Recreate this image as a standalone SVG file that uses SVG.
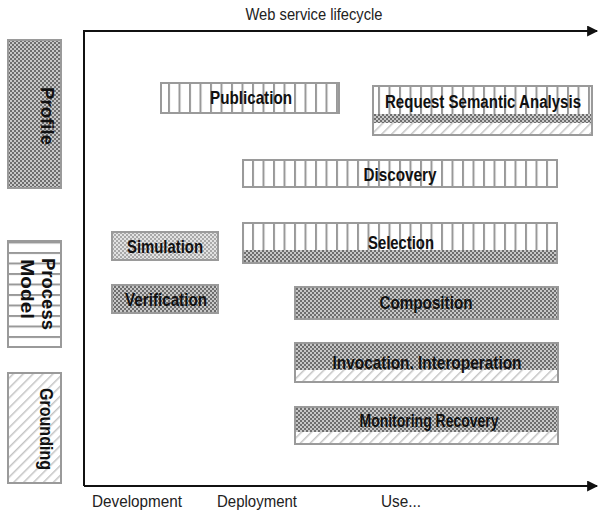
<svg xmlns="http://www.w3.org/2000/svg" width="601" height="518" viewBox="0 0 601 518">
<style>
.box{stroke:#9a9a9a;stroke-width:2}
.lbl{font-family:"Liberation Sans",Arial,sans-serif;font-weight:bold;font-size:19px;fill:#111;text-anchor:middle}
.ax{font-family:"Liberation Sans",Arial,sans-serif;font-size:17px;fill:#222}
.axis{stroke:#111;stroke-width:2;fill:none}
</style>
<defs>
<pattern id="vstripe" width="10.5" height="10" patternUnits="userSpaceOnUse">
<rect width="10.5" height="10" fill="#fff"/>
<rect x="0" width="2" height="10" fill="#999"/>
</pattern>
<pattern id="hstripe" width="10" height="10.5" patternUnits="userSpaceOnUse">
<rect width="10" height="10.5" fill="#fff"/>
<rect y="0" width="10" height="2" fill="#999"/>
</pattern>
<pattern id="check" width="4" height="4" patternUnits="userSpaceOnUse">
<rect width="4" height="4" fill="#c8c8c8"/>
<rect width="2" height="2" fill="#6e6e6e"/>
<rect x="2" y="2" width="2" height="2" fill="#6e6e6e"/>
</pattern>
<pattern id="checkLight" width="4" height="4" patternUnits="userSpaceOnUse">
<rect width="4" height="4" fill="#e2e2e2"/>
<rect width="2" height="2" fill="#a8a8a8"/>
<rect x="2" y="2" width="2" height="2" fill="#a8a8a8"/>
</pattern>
<pattern id="diag" width="7" height="7" patternUnits="userSpaceOnUse" patternTransform="rotate(45)">
<rect width="7" height="7" fill="#fff"/>
<rect width="1.5" height="7" fill="#c4c4c4"/>
</pattern>
<marker id="arr" viewBox="0 0 10 10" refX="9" refY="5" markerWidth="7" markerHeight="5.5" markerUnits="strokeWidth" orient="auto">
<path d="M0,0 L10,5 L0,10 z" fill="#111"/>
</marker>
</defs>

<g id="connectors">
<path class="axis" d="M84,486 L84,31 L597,31" marker-end="url(#arr)"/>
<path class="axis" d="M84,486 L597,486" marker-end="url(#arr)"/>
</g>

<text class="ax" x="314" y="20" text-anchor="middle" textLength="137" lengthAdjust="spacingAndGlyphs">Web service lifecycle</text>
<text class="ax" x="137" y="507" text-anchor="middle" textLength="90" lengthAdjust="spacingAndGlyphs">Development</text>
<text class="ax" x="257" y="507" text-anchor="middle" textLength="80" lengthAdjust="spacingAndGlyphs">Deployment</text>
<text class="ax" x="401" y="507" text-anchor="middle" textLength="40" lengthAdjust="spacingAndGlyphs">Use...</text>

<g id="legend-profile">
<rect class="box" x="8" y="40" width="53" height="148" fill="url(#check)"/>
<text class="lbl" transform="translate(41,116) rotate(90)" textLength="58" lengthAdjust="spacingAndGlyphs">Profile</text>
</g>
<g id="legend-process-model">
<rect class="box" x="8" y="241" width="53" height="106" fill="url(#hstripe)"/>
<text class="lbl" transform="translate(42,294) rotate(90)" textLength="72" lengthAdjust="spacingAndGlyphs">Process</text>
<text class="lbl" transform="translate(21,289) rotate(90)" textLength="60" lengthAdjust="spacingAndGlyphs">Model</text>
</g>
<g id="legend-grounding">
<rect class="box" x="8" y="373" width="53" height="110" fill="url(#diag)"/>
<text class="lbl" transform="translate(40,429) rotate(90)" textLength="82" lengthAdjust="spacingAndGlyphs">Grounding</text>
</g>

<g id="publication">
<rect class="box" x="161" y="83" width="178" height="30" fill="url(#vstripe)"/>
<text class="lbl" x="251" y="104" textLength="82" lengthAdjust="spacingAndGlyphs">Publication</text>
</g>
<g id="request-semantic-analysis">
<rect x="373" y="86" width="219" height="28" fill="url(#vstripe)"/>
<rect x="373" y="114" width="219" height="9" fill="url(#check)"/>
<rect x="373" y="123" width="219" height="12" fill="url(#diag)"/>
<rect class="box" x="373" y="86" width="219" height="49" fill="none"/>
<text class="lbl" transform="translate(483,108) scale(0.8,1)" x="0" y="0" textLength="245" lengthAdjust="spacingAndGlyphs">Request Semantic Analysis</text>
</g>
<g id="discovery">
<rect class="box" x="243" y="160" width="314" height="27" fill="url(#vstripe)"/>
<text class="lbl" x="400" y="181" textLength="73" lengthAdjust="spacingAndGlyphs">Discovery</text>
</g>
<g id="simulation">
<rect class="box" x="112" y="232" width="106" height="28" fill="url(#checkLight)"/>
<text class="lbl" x="165" y="253" textLength="76" lengthAdjust="spacingAndGlyphs">Simulation</text>
</g>
<g id="selection">
<rect x="243" y="223" width="314" height="27" fill="url(#vstripe)"/>
<rect x="243" y="250" width="314" height="13" fill="url(#check)"/>
<rect class="box" x="243" y="223" width="314" height="40" fill="none"/>
<text class="lbl" x="401" y="249" textLength="66" lengthAdjust="spacingAndGlyphs">Selection</text>
</g>
<g id="verification">
<rect class="box" x="112" y="285" width="106" height="28" fill="url(#check)"/>
<text class="lbl" x="166" y="306" textLength="82" lengthAdjust="spacingAndGlyphs">Verification</text>
</g>
<g id="composition">
<rect class="box" x="295" y="287" width="263" height="32" fill="url(#check)"/>
<text class="lbl" x="426" y="309" textLength="93" lengthAdjust="spacingAndGlyphs">Composition</text>
</g>
<g id="invocation-interoperation">
<rect x="295" y="343" width="263" height="27" fill="url(#check)"/>
<rect x="295" y="370" width="263" height="12" fill="url(#diag)"/>
<rect class="box" x="295" y="343" width="263" height="39" fill="none"/>
<text class="lbl" x="427" y="369" textLength="189" lengthAdjust="spacingAndGlyphs">Invocation. Interoperation</text>
</g>
<g id="monitoring-recovery">
<rect x="295" y="407" width="263" height="25" fill="url(#check)"/>
<rect x="295" y="432" width="263" height="12" fill="url(#diag)"/>
<rect class="box" x="295" y="407" width="263" height="37" fill="none"/>
<text class="lbl" x="429" y="427" textLength="139" lengthAdjust="spacingAndGlyphs">Monitoring Recovery</text>
</g>
</svg>
